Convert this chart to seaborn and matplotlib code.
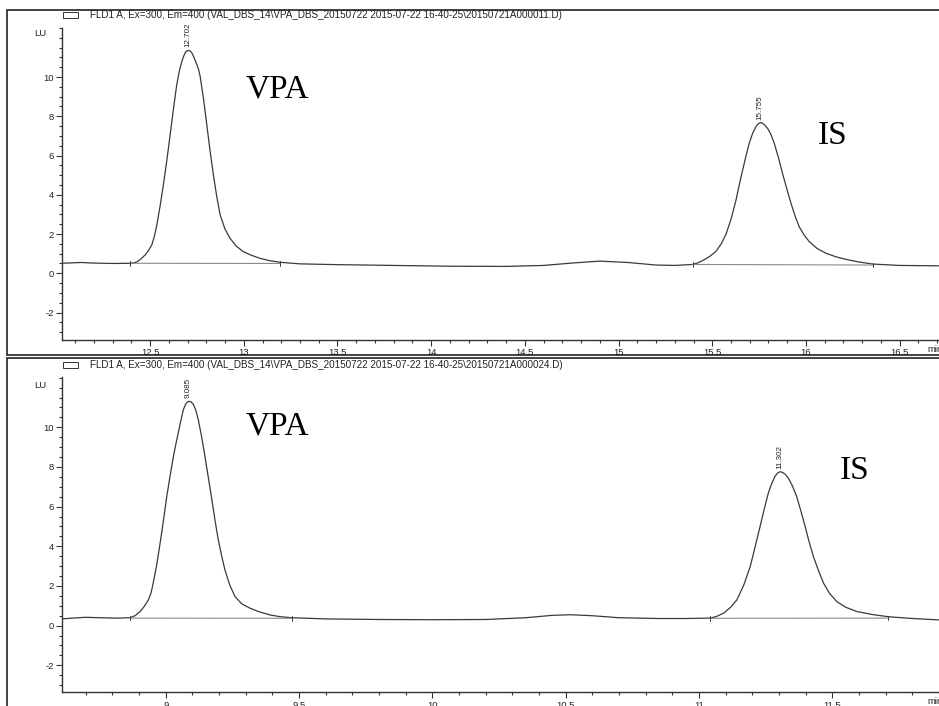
import matplotlib
matplotlib.use("Agg")
import matplotlib.pyplot as plt
from matplotlib.patches import Rectangle
from matplotlib.ticker import MultipleLocator
import seaborn as sns

# ---------------- data ----------------
top_header = r"FLD1 A, Ex=300, Em=400 (VAL_DBS_14\VPA_DBS_20150722 2015-07-22 16-40-25\20150721A000011.D)"
bot_header = r"FLD1 A, Ex=300, Em=400 (VAL_DBS_14\VPA_DBS_20150722 2015-07-22 16-40-25\20150721A000024.D)"

top_time = [12.03, 12.08, 12.13, 12.2, 12.3, 12.393, 12.41, 12.429, 12.45, 12.473,
            12.49, 12.509, 12.522, 12.536, 12.553, 12.571, 12.59, 12.607, 12.625, 12.642,
            12.656, 12.669, 12.68, 12.69, 12.702, 12.712, 12.722, 12.732, 12.745, 12.757,
            12.767, 12.785, 12.803, 12.82, 12.838, 12.856, 12.874, 12.9, 12.927, 12.96,
            12.998, 13.04, 13.087, 13.14, 13.194, 13.3, 13.5, 13.8, 14.1, 14.4,
            14.6, 14.75, 14.9, 15.05, 15.2, 15.3, 15.395, 15.42, 15.448, 15.485,
            15.520, 15.548, 15.573, 15.6, 15.626, 15.644, 15.662, 15.68, 15.697, 15.715,
            15.733, 15.745, 15.757, 15.768, 15.78, 15.795, 15.812, 15.831, 15.853, 15.875,
            15.898, 15.920, 15.942, 15.964, 15.99, 16.018, 16.06, 16.107, 16.16, 16.213,
            16.28, 16.356, 16.5, 16.71]
top_signal = [0.51, 0.53, 0.55, 0.52, 0.50, 0.51, 0.53, 0.58, 0.72, 0.93,
              1.14, 1.44, 1.85, 2.46, 3.40, 4.50, 5.80, 7.05, 8.40, 9.59,
              10.30, 10.78, 11.08, 11.28, 11.36, 11.34, 11.25, 11.05, 10.75, 10.45,
              10.05, 8.90, 7.55, 6.25, 5.01, 3.90, 2.97, 2.25, 1.78, 1.38,
              1.10, 0.92, 0.76, 0.64, 0.56, 0.48, 0.44, 0.40, 0.36, 0.35,
              0.40, 0.52, 0.62, 0.55, 0.42, 0.40, 0.45, 0.52, 0.64, 0.85,
              1.12, 1.50, 1.98, 2.75, 3.70, 4.50, 5.25, 5.98, 6.62, 7.12,
              7.47, 7.62, 7.68, 7.65, 7.55, 7.39, 7.10, 6.62, 5.90, 5.09,
              4.30, 3.57, 2.92, 2.37, 1.95, 1.61, 1.26, 1.02, 0.84, 0.71,
              0.58, 0.47, 0.40, 0.38]

bot_time = [8.611, 8.65, 8.70, 8.75, 8.82, 8.866, 8.885, 8.904, 8.92, 8.935,
            8.945, 8.953, 8.966, 8.979, 8.992, 9.004, 9.017, 9.029, 9.038, 9.047,
            9.057, 9.066, 9.076, 9.085, 9.095, 9.104, 9.113, 9.122, 9.135, 9.147,
            9.16, 9.173, 9.185, 9.197, 9.21, 9.222, 9.24, 9.260, 9.285, 9.316,
            9.35, 9.391, 9.43, 9.473, 9.6, 9.8, 10.0, 10.2, 10.35, 10.45,
            10.52, 10.6, 10.7, 10.85, 10.95, 11.042, 11.065, 11.092, 11.118, 11.142,
            11.168, 11.192, 11.21, 11.229, 11.245, 11.260, 11.273, 11.285, 11.295, 11.304,
            11.314, 11.324, 11.335, 11.35, 11.366, 11.382, 11.398, 11.413, 11.429, 11.448,
            11.467, 11.49, 11.517, 11.55, 11.592, 11.65, 11.710, 11.8, 11.9]
bot_signal = [0.34, 0.38, 0.42, 0.40, 0.38, 0.40, 0.50, 0.71, 0.98, 1.30,
              1.65, 2.14, 3.05, 4.16, 5.35, 6.52, 7.60, 8.54, 9.15, 9.72,
              10.35, 10.89, 11.20, 11.31, 11.28, 11.15, 10.85, 10.39, 9.50, 8.54,
              7.45, 6.35, 5.30, 4.33, 3.50, 2.81, 2.05, 1.46, 1.10, 0.88,
              0.70, 0.54, 0.45, 0.40, 0.34, 0.31, 0.30, 0.31, 0.40, 0.52,
              0.55, 0.50, 0.40, 0.36, 0.36, 0.38, 0.46, 0.63, 0.92, 1.30,
              2.05, 2.98, 3.95, 5.00, 5.90, 6.69, 7.18, 7.53, 7.70, 7.76,
              7.72, 7.62, 7.44, 7.05, 6.52, 5.78, 5.00, 4.22, 3.48, 2.78,
              2.14, 1.62, 1.21, 0.93, 0.71, 0.56, 0.45, 0.36, 0.29]

# integration baselines: (start time, start LU, end time, end LU)
top_baselines = [(12.393, 0.51, 13.194, 0.50), (15.395, 0.45, 16.356, 0.42)]
bot_baselines = [(8.866, 0.38, 9.473, 0.37), (11.042, 0.37, 11.710, 0.38)]

top_peak_times = [12.702, 15.755]
top_peak_heights = [11.36, 7.68]
bot_peak_times = [9.085, 11.302]
bot_peak_heights = [11.31, 7.76]

top_xticks = [12.5, 13, 13.5, 14, 14.5, 15, 15.5, 16, 16.5]
bot_xticks = [9, 9.5, 10, 10.5, 11, 11.5]
yticks = [-2, 0, 2, 4, 6, 8, 10]

# ---------------- figure ----------------
sns.set_style("white")
plt.rcParams["font.family"] = ["Liberation Sans", "DejaVu Sans"]
plt.rcParams["axes.unicode_minus"] = False

W, H = 939, 706
fig = plt.figure(figsize=(W / 100, H / 100), dpi=100)

def fx(px):
    return px / W

def fy(py):
    return 1 - py / H

# outer panel frames
fig.patches.append(Rectangle((fx(7), fy(355)), fx(940) - fx(7), fy(10) - fy(355),
                             transform=fig.transFigure, fill=False, ec="#222222", lw=1.2))
fig.patches.append(Rectangle((fx(7), fy(720)), fx(940) - fx(7), fy(358) - fy(720),
                             transform=fig.transFigure, fill=False, ec="#222222", lw=1.2))

line_col = "#3a3a3a"
base_col = "#8a8a8a"

def make_panel(ax_rect, times, signal, xlim, ylim, xticks, baselines,
               ptimes, pheights, header, header_y, lu_y, labels_pos):
    ax = fig.add_axes(ax_rect)
    sns.lineplot(x=times, y=signal, ax=ax, color=line_col, linewidth=0.9,
                 sort=False, estimator=None)
    for (t0, y0, t1, y1) in baselines:
        sns.lineplot(x=[t0, t1], y=[y0, y1], ax=ax, color=base_col, linewidth=0.8,
                     sort=False, estimator=None)
        for t, yv in ((t0, y0), (t1, y1)):
            ax.plot([t, t], [yv - 0.12, yv + 0.12], color=line_col, lw=0.7)
    for t, h in zip(ptimes, pheights):
        ax.text(t, h + 0.15, f"{t:.3f}", rotation=90, ha="center", va="bottom",
                fontsize=5.8, color="#222222")
    ax.set_xlim(*xlim)
    ax.set_ylim(*ylim)
    ax.set_xticks(xticks)
    ax.set_xticklabels([f"{v:g}" for v in xticks])
    ax.set_yticks(yticks)
    ax.xaxis.set_minor_locator(MultipleLocator(0.1))
    ax.yaxis.set_minor_locator(MultipleLocator(0.5))
    ax.tick_params(axis="both", which="major", labelsize=6.8, length=4, width=0.8,
                   color="#333333", labelcolor="#222222", pad=2)
    ax.tick_params(axis="both", which="minor", length=2, width=0.8, color="#333333")
    ax.tick_params(axis="x", which="both", bottom=True, direction="out")
    ax.tick_params(axis="y", which="both", left=True, direction="out")
    for s in ("top", "right"):
        ax.spines[s].set_visible(False)
    for s in ("left", "bottom"):
        ax.spines[s].set_color("#333333")
        ax.spines[s].set_linewidth(1.0)
    ax.set_xlabel("")
    ax.set_ylabel("")
    ax.patch.set_alpha(0)
    # header with legend box
    fig.patches.append(Rectangle((fx(63), fy(header_y + 3)), fx(78) - fx(63), fy(header_y - 3) - fy(header_y + 3),
                                 transform=fig.transFigure, fill=False, ec="#333333", lw=0.7))
    fig.text(fx(90), fy(header_y), header, fontsize=7.1, ha="left", va="center", color="#222222")
    fig.text(fx(40), fy(lu_y), "LU", fontsize=6.8, ha="center", va="center", color="#222222")
    for (txt, px, py) in labels_pos:
        fig.text(fx(px), fy(py), txt, fontsize=24, ha="center", va="center",
                 family=["Liberation Serif", "DejaVu Serif"], color="black")
    return ax

# top panel: axes spans px x 62..939, y 28..340
make_panel([fx(62), fy(340), fx(939) - fx(62), fy(28) - fy(340)],
           top_time, top_signal, (12.03, 16.71), (-3.40, 12.50), top_xticks,
           top_baselines, top_peak_times, top_peak_heights,
           top_header, 15, 33, [("VPA", 277, 89), ("IS", 833, 136)])
fig.text(fx(927), fy(349), "min", fontsize=6.8, ha="left", va="center", color="#222222")

# bottom panel: axes spans px x 62..939, y 377..692
make_panel([fx(62), fy(692.3), fx(939) - fx(62), fy(376.7) - fy(692.3)],
           bot_time, bot_signal, (8.611, 11.9), (-3.36, 12.55), bot_xticks,
           bot_baselines, bot_peak_times, bot_peak_heights,
           bot_header, 365, 385, [("VPA", 277, 426), ("IS", 855, 471)])
fig.text(fx(927), fy(701), "min", fontsize=6.8, ha="left", va="center", color="#222222")

fig.savefig("out.png", dpi=100)
